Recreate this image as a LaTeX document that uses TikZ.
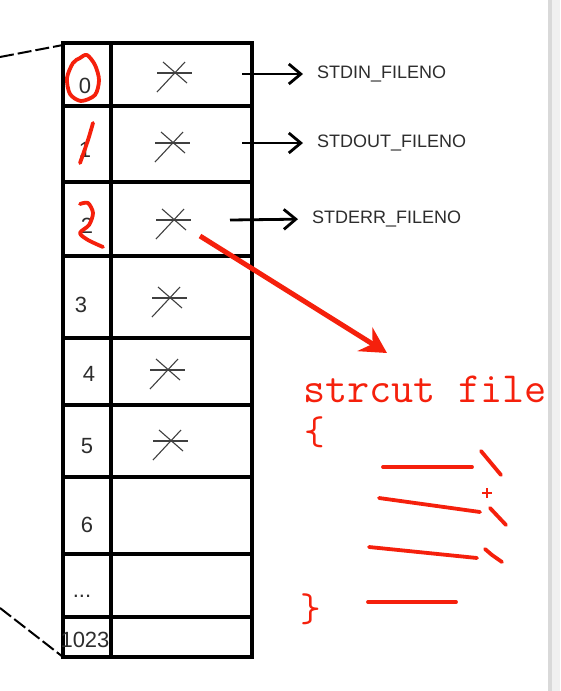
\documentclass[tikz,border=0pt]{standalone}
\usepackage{fontspec}
\setmainfont{Liberation Sans}
\usetikzlibrary{arrows.meta}
\definecolor{inkred}{RGB}{245,32,12}
\definecolor{txtgray}{RGB}{45,45,45}
\begin{document}
\begin{tikzpicture}[x=1pt,y=-1pt,
  tbl/.style={line width=3.2pt,black},
  xmarkline/.style={line width=1.1pt,black!75},
  idx/.style={font=\fontsize{22}{22}\selectfont,text=txtgray,inner sep=0pt},
  lbl/.style={font=\fontsize{18}{18}\selectfont,text=txtgray,anchor=west,inner sep=0pt},
  blkarrow/.style={line width=2.8pt,-{Straight Barb[length=12pt,width=20pt,line width=2.8pt]},shorten >=14pt},
  redarrow/.style={line width=5pt,inkred,-{Stealth[length=26pt,width=28pt,inset=9pt]}},
  redpen/.style={line width=3.8pt,inkred,line cap=round,line join=round},
  redtxt/.style={text=inkred,inner sep=0pt},
  dashline/.style={line width=2pt,black,dash pattern=on 14pt off 4pt},
  xmark/.pic={
    \draw[xmarkline] (-18,-1) -- (17,-1);
    \draw[xmarkline] (-18,18) -- (10,-12);
    \draw[xmarkline] (-12,-12) -- (12,9);
  }]
\useasboundingbox (0,0) rectangle (560,691);
\fill[white] (0,0) rectangle (560,691);
% screen edge strip
\fill[black!15] (548,0) rectangle (552,691);
\fill[black!6] (552,0) rectangle (560,691);

% dashed perspective lines
\coordinate (tl) at (63,45);
\coordinate (bl) at (63,657);
\coordinate (dtop) at (0,57);
\coordinate (dbot) at (0,608);
\draw[dashline] (dtop) -- (tl);
\draw[dashline] (dbot) -- (bl);

% table
\draw[tbl] (63,43) rectangle (252,657);
\draw[tbl] (111,43) -- (111,657);
\foreach \yy in {106,182,256,338,405,477,554,617}
  \draw[tbl] (63,\yy) -- (252,\yy);

% indices
\node[idx] (n0) at (85,86) {0};
\node[idx] (n1) at (85,150) {1};
\node[idx] (n2) at (87,226) {2};
\node[idx] (n3) at (81,305) {3};
\node[idx] (n4) at (89,374) {4};
\node[idx] (n5) at (87,446) {5};
\node[idx] (n6) at (87,525) {6};
\node[idx] (ndots) at (82,596) {...};
\node[idx] (n1023) at (85,640) {1023};

% pointer marks
\pic at (175,74) {xmark};
\pic at (173,144) {xmark};
\pic at (174,221) {xmark};
\pic at (170,299) {xmark};
\pic at (168,371) {xmark};
\pic at (171,442) {xmark};

% labels and arrows
\node[lbl] (l0) at (317,74) {STDIN\_FILENO};
\node[lbl] (l1) at (317,143) {STDOUT\_FILENO};
\node[lbl] (l2) at (312,219) {STDERR\_FILENO};
\coordinate (s0) at (242,74);
\coordinate (s1) at (242,143);
\coordinate (s2) at (230,220);
\draw[blkarrow] (s0) -- (l0.west);
\draw[blkarrow] (s1) -- (l1.west);
\draw[blkarrow] (s2) -- (l2.west);

% red annotations on indices
\draw[redpen] plot[smooth cycle] coordinates {(87,55) (95,65) (99,80) (95,95) (81,101) (70,94) (67,78) (73,63) (80,58)};
\draw[redpen] plot[smooth] coordinates {(93,123) (88,140) (80,163)};
\draw[redpen] plot[smooth] coordinates {(80,204) (88,203) (93,213) (89,225) (80,233) (88,240) (103,247)};

% red arrow
\coordinate (ra) at (200,236);
\node[redtxt,font=\ttfamily\fontsize{43}{43}\selectfont,anchor=base west] (st) at (303,402) {strcut file};
\coordinate (rb) at (387,353);
\draw[redarrow] (ra) -- (rb);

% braces
\node[redtxt,font=\ttfamily\fontsize{40}{40}\selectfont] (lb) at (315,432) {\{};
\node[redtxt,font=\ttfamily\fontsize{40}{40}\selectfont] (rbr) at (311,609) {\}};

% red strokes for struct members
\draw[redpen] (383,467) -- (472,467);
\draw[redpen] (481,451) -- (501,475);
\draw[inkred,line width=1.3pt] (482,493) -- (492,493) (487,488) -- (487,498);
\draw[redpen] (379,498) -- (480,512);
\draw[redpen] (490,508) -- (506,525);
\draw[redpen] (369,547) -- (477,558);
\draw[redpen] (485,549) -- (492,555) -- (502,562);
\draw[redpen] (368,602) -- (456,602);
\end{tikzpicture}
\end{document}
